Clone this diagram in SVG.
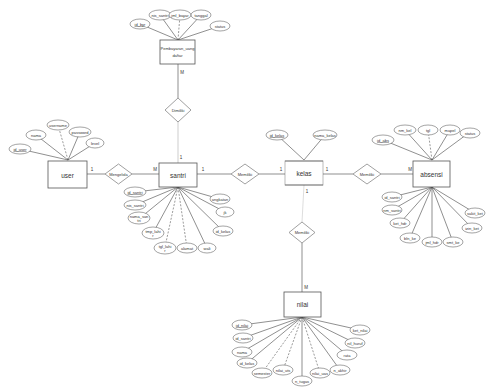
<svg xmlns="http://www.w3.org/2000/svg" width="486" height="387" viewBox="0 0 486 387">
<style>
.e{fill:#fff;stroke:#555;stroke-width:0.8}
.a{fill:#fff;stroke:#666;stroke-width:0.6}
.d{fill:#fff;stroke:#777;stroke-width:0.7}
.l{stroke:#444;stroke-width:0.6;fill:none}
.ds{stroke:#555;stroke-width:0.6;stroke-dasharray:2 1.5;fill:none}
.t{font-family:"Liberation Sans",Arial,sans-serif;font-size:4px;fill:#333;text-anchor:middle;dominant-baseline:central}
.n{font-family:"Liberation Sans",Arial,sans-serif;font-size:6.5px;fill:#333;text-anchor:middle;dominant-baseline:central}
.c{font-family:"Liberation Sans",Arial,sans-serif;font-size:4.5px;fill:#333;text-anchor:middle;dominant-baseline:central}
</style>
<rect width="486" height="387" fill="#fff"/>
<g id="connectors">
<line class="l" x1="87" y1="174" x2="105" y2="174"/>
<line class="l" x1="132" y1="174" x2="159" y2="174"/>
<line class="l" x1="197" y1="174" x2="231" y2="174"/>
<line class="l" x1="259" y1="174" x2="285" y2="174"/>
<line class="l" x1="323" y1="174" x2="353" y2="174"/>
<line class="l" x1="381" y1="174" x2="415" y2="174"/>
<line class="l" x1="178" y1="64" x2="178" y2="98"/>
<line class="l" x1="178" y1="121" x2="178" y2="163" stroke-opacity="0.45"/>
<line class="l" x1="304" y1="185" x2="302" y2="222" stroke-opacity="0.3"/>
<line class="l" x1="302" y1="243" x2="302" y2="292"/>
<text class="c" x="92" y="169">1</text>
<text class="c" x="155" y="169">M</text>
<text class="c" x="203" y="169">1</text>
<text class="c" x="281" y="169">1</text>
<text class="c" x="327" y="169">1</text>
<text class="c" x="410" y="169">M</text>
<text class="c" x="182" y="72">M</text>
<text class="c" x="181" y="157">1</text>
<text class="c" x="307" y="191">1</text>
<text class="c" x="306" y="287">M</text>
</g>
<g id="rel-mengelola"><polygon class="d" points="105,174 118.5,164 132,174 118.5,184"/><text class="t" x="118.5" y="174">Mengelola</text></g>
<g id="rel-dimiliki-top"><polygon class="d" points="165,110 178,98 191,110 178,122"/><text class="t" x="178" y="110">Dimiliki</text></g>
<g id="rel-memiliki-kelas"><polygon class="d" points="231,174 245,164 259,174 245,184"/><text class="t" x="245" y="174">Memiliki</text></g>
<g id="rel-memiliki-absensi"><polygon class="d" points="353,174 367,164 381,174 367,184"/><text class="t" x="367" y="174">Memiliki</text></g>
<g id="rel-memiliki-nilai"><polygon class="d" points="289,232.5 302,222 315,232.5 302,243"/><text class="t" x="302" y="232.5">Memiliki</text></g>

<g id="user">
<line class="l" x1="68" y1="160" x2="20" y2="149"/>
<line class="l" x1="68" y1="160" x2="36" y2="135"/>
<line class="ds" x1="68" y1="160" x2="58" y2="125"/>
<line class="l" x1="68" y1="160" x2="80" y2="132"/>
<line class="l" x1="68" y1="160" x2="95" y2="143"/>
<ellipse class="a" cx="20" cy="149" rx="11" ry="5"/><text class="t" x="20" y="149" text-decoration="underline">id_user</text>
<ellipse class="a" cx="36" cy="135" rx="10" ry="5"/><text class="t" x="36" y="135">nama</text>
<ellipse class="a" cx="58" cy="125" rx="11" ry="5"/><text class="t" x="58" y="125">username</text>
<ellipse class="a" cx="80" cy="132" rx="11" ry="5"/><text class="t" x="80" y="132">password</text>
<ellipse class="a" cx="95" cy="143" rx="9" ry="5"/><text class="t" x="95" y="143">level</text>
<rect class="e" x="48" y="161" width="39" height="27"/><text class="n" x="67.5" y="175">user</text>
</g>

<g id="pembayaran">
<line class="l" x1="178" y1="40" x2="140" y2="24"/>
<line class="l" x1="178" y1="40" x2="160" y2="15"/>
<line class="ds" x1="178" y1="40" x2="180" y2="15"/>
<line class="l" x1="178" y1="40" x2="201" y2="15"/>
<line class="l" x1="178" y1="40" x2="220" y2="26"/>
<ellipse class="a" cx="140" cy="24" rx="10" ry="5"/><text class="t" x="140" y="24" text-decoration="underline">id_byr</text>
<ellipse class="a" cx="160" cy="15" rx="11" ry="5"/><text class="t" x="160" y="15">nis_santri</text>
<ellipse class="a" cx="180" cy="15" rx="11" ry="5"/><text class="t" x="180" y="15">jml_bayar</text>
<ellipse class="a" cx="201" cy="15" rx="10" ry="5"/><text class="t" x="201" y="15">tanggal</text>
<ellipse class="a" cx="220" cy="26" rx="10" ry="5"/><text class="t" x="220" y="26">status</text>
<rect class="e" x="160" y="40" width="35" height="24"/>
<text class="t" x="177.5" y="48">Pembayaran_uang</text><text class="t" x="177.5" y="55">daftar</text>
</g>

<g id="santri">
<line class="l" x1="178" y1="187" x2="135" y2="192"/>
<line class="l" x1="178" y1="187" x2="135" y2="205"/>
<line class="l" x1="178" y1="187" x2="140" y2="218"/>
<line class="l" x1="178" y1="187" x2="153" y2="233"/>
<line class="ds" x1="178" y1="187" x2="165" y2="247"/>
<line class="ds" x1="178" y1="187" x2="187" y2="248"/>
<line class="l" x1="178" y1="187" x2="207" y2="248"/>
<line class="l" x1="178" y1="187" x2="220" y2="199"/>
<line class="l" x1="178" y1="187" x2="225" y2="212"/>
<line class="l" x1="178" y1="187" x2="223" y2="231"/>
<ellipse class="a" cx="135" cy="192" rx="11" ry="5"/><text class="t" x="135" y="192" text-decoration="underline">id_santri</text>
<ellipse class="a" cx="135" cy="205" rx="11" ry="5"/><text class="t" x="135" y="205">nis_santri</text>
<ellipse class="a" cx="139" cy="218" rx="11" ry="6"/><text class="t" x="139" y="216">nama_san</text><text class="t" x="139" y="220.5">tri</text>
<ellipse class="a" cx="153" cy="233" rx="11" ry="6"/><text class="t" x="153" y="231">tmp_lahi</text><text class="t" x="153" y="235.5">r</text>
<ellipse class="a" cx="165" cy="248" rx="11" ry="6"/><text class="t" x="165" y="246">tgl_lahi</text><text class="t" x="165" y="250.5">r</text>
<ellipse class="a" cx="187" cy="248" rx="10" ry="5"/><text class="t" x="187" y="248">alamat</text>
<ellipse class="a" cx="207" cy="248" rx="9" ry="5"/><text class="t" x="207" y="248">wali</text>
<ellipse class="a" cx="220" cy="199" rx="10" ry="5"/><text class="t" x="220" y="199">angkatan</text>
<ellipse class="a" cx="225" cy="212" rx="9" ry="5"/><text class="t" x="225" y="212">jk</text>
<ellipse class="a" cx="223" cy="231" rx="10" ry="5"/><text class="t" x="223" y="231">id_kelas</text>
<rect class="e" x="159" y="163" width="38" height="24"/><text class="n" x="178" y="175">santri</text>
</g>

<g id="kelas">
<line class="l" x1="304" y1="160" x2="277" y2="135"/>
<line class="l" x1="304" y1="160" x2="325" y2="135"/>
<ellipse class="a" cx="277" cy="135" rx="11" ry="5"/><text class="t" x="277" y="135" text-decoration="underline">id_kelas</text>
<ellipse class="a" cx="325" cy="135" rx="12" ry="5"/><text class="t" x="325" y="135">nama_kelas</text>
<rect class="e" x="285" y="161" width="38" height="24" stroke-opacity="0.5"/>
<line class="l" x1="285" y1="161" x2="323" y2="161"/><line class="l" x1="285" y1="185" x2="323" y2="185"/>
<text class="n" x="304" y="173">kelas</text>
</g>

<g id="absensi">
<line class="l" x1="432" y1="160" x2="383" y2="140"/>
<line class="l" x1="432" y1="160" x2="405" y2="130"/>
<line class="ds" x1="432" y1="160" x2="428" y2="130"/>
<line class="l" x1="432" y1="160" x2="450" y2="130"/>
<line class="l" x1="432" y1="160" x2="470" y2="132"/>
<ellipse class="a" cx="383" cy="140" rx="11" ry="5"/><text class="t" x="383" y="140" text-decoration="underline">id_abs</text>
<ellipse class="a" cx="405" cy="130" rx="11" ry="5"/><text class="t" x="405" y="130">nm_kel</text>
<ellipse class="a" cx="428" cy="130" rx="10" ry="5"/><text class="t" x="428" y="130">tgl</text>
<ellipse class="a" cx="450" cy="130" rx="10" ry="5"/><text class="t" x="450" y="130">mapel</text>
<ellipse class="a" cx="470" cy="133" rx="10" ry="5"/><text class="t" x="470" y="133">status</text>
<line class="l" x1="432" y1="187" x2="392" y2="197"/>
<line class="l" x1="432" y1="187" x2="392" y2="210"/>
<line class="l" x1="432" y1="187" x2="400" y2="223"/>
<line class="l" x1="432" y1="187" x2="410" y2="238"/>
<line class="l" x1="432" y1="187" x2="432" y2="242"/>
<line class="l" x1="432" y1="187" x2="453" y2="242"/>
<line class="l" x1="432" y1="187" x2="472" y2="228"/>
<line class="l" x1="432" y1="187" x2="475" y2="213"/>
<ellipse class="a" cx="392" cy="197" rx="10" ry="5"/><text class="t" x="392" y="197">id_santri</text>
<ellipse class="a" cx="392" cy="210" rx="10" ry="5"/><text class="t" x="392" y="210">nm_santri</text>
<ellipse class="a" cx="400" cy="223" rx="10" ry="5"/><text class="t" x="400" y="223">ket_hdr</text>
<ellipse class="a" cx="410" cy="238" rx="10" ry="5"/><text class="t" x="410" y="238">bln_ke</text>
<ellipse class="a" cx="432" cy="242" rx="10" ry="5"/><text class="t" x="432" y="242">jml_hdr</text>
<ellipse class="a" cx="453" cy="242" rx="10" ry="5"/><text class="t" x="453" y="242">smt_ke</text>
<ellipse class="a" cx="472" cy="228" rx="10" ry="5"/><text class="t" x="472" y="228">izin_ket</text>
<ellipse class="a" cx="475" cy="213" rx="10" ry="5"/><text class="t" x="475" y="213">sakit_ket</text>
<rect class="e" x="413" y="161" width="37" height="26"/><text class="n" x="431.5" y="174">absensi</text>
</g>

<g id="nilai">
<line class="l" x1="302" y1="317" x2="242" y2="325"/>
<line class="l" x1="302" y1="317" x2="243" y2="338"/>
<line class="l" x1="302" y1="317" x2="242" y2="352"/>
<line class="l" x1="302" y1="317" x2="247" y2="363"/>
<line class="ds" x1="302" y1="317" x2="262" y2="373"/>
<line class="ds" x1="302" y1="317" x2="283" y2="370"/>
<line class="l" x1="302" y1="317" x2="302" y2="381"/>
<line class="ds" x1="302" y1="317" x2="320" y2="373"/>
<line class="l" x1="302" y1="317" x2="340" y2="370"/>
<line class="l" x1="302" y1="317" x2="347" y2="355"/>
<line class="l" x1="302" y1="317" x2="355" y2="343"/>
<line class="l" x1="302" y1="317" x2="360" y2="330"/>
<ellipse class="a" cx="242" cy="325" rx="10" ry="5"/><text class="t" x="242" y="325" text-decoration="underline">id_nilai</text>
<ellipse class="a" cx="243" cy="338" rx="10" ry="5"/><text class="t" x="243" y="338">id_santri</text>
<ellipse class="a" cx="242" cy="352" rx="10" ry="5"/><text class="t" x="242" y="352">nama</text>
<ellipse class="a" cx="247" cy="363" rx="10" ry="5"/><text class="t" x="247" y="363">id_kelas</text>
<ellipse class="a" cx="262" cy="373" rx="10" ry="5"/><text class="t" x="262" y="373">semester</text>
<ellipse class="a" cx="283" cy="370" rx="10" ry="5"/><text class="t" x="283" y="370">nilai_uts</text>
<ellipse class="a" cx="302" cy="381" rx="10" ry="5"/><text class="t" x="302" y="381">n_tugas</text>
<ellipse class="a" cx="320" cy="373" rx="10" ry="5"/><text class="t" x="320" y="373">nilai_uas</text>
<ellipse class="a" cx="340" cy="370" rx="10" ry="5"/><text class="t" x="340" y="370">n_akhir</text>
<ellipse class="a" cx="347" cy="355" rx="10" ry="5"/><text class="t" x="347" y="355">rata</text>
<ellipse class="a" cx="355" cy="343" rx="10" ry="5"/><text class="t" x="355" y="343">nil_huruf</text>
<ellipse class="a" cx="360" cy="330" rx="10" ry="5"/><text class="t" x="360" y="330">ket_nilai</text>
<rect class="e" x="284" y="292" width="37" height="25"/><text class="n" x="302.5" y="304.5">nilai</text>
</g>
</svg>
